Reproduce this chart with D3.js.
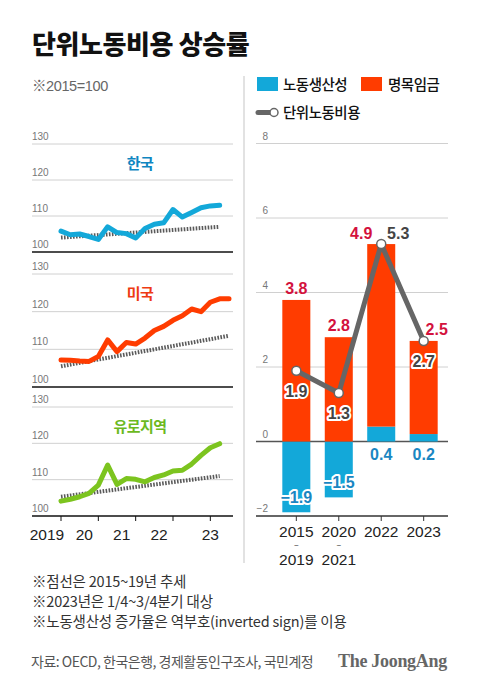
<!DOCTYPE html>
<html><head><meta charset="utf-8">
<script src="https://cdn.jsdelivr.net/npm/d3@7"></script>
<style>
body{margin:0;background:#fff;}
svg{display:block;font-family:"Liberation Sans","Noto Sans CJK KR",sans-serif;}
.kr{font-family:"Noto Sans CJK KR","Liberation Sans",sans-serif;}
</style></head><body>
<svg id="c" width="480" height="691"></svg>
<script>
// ---------- data ----------
const leftTicks = [100, 110, 120, 130];
const yearTicks = [0, 4, 8, 12, 16];          // quarter index of Q1 each year
const yearLabels = ["2019", "20", "21", "22", "23"];
const panelNames = ["한국", "미국", "유로지역"];
const korea = [105.8,104.8,105.0,104.3,103.5,107.0,105.4,105.1,103.9,106.5,107.7,108.1,111.8,109.7,111.0,112.3,112.8,113.0];
const usa   = [107.2,107.1,106.9,106.8,108.1,112.5,109.4,111.8,111.4,113.0,115.0,116.1,117.7,118.9,120.7,120.0,122.5,123.4,123.4];
const euro  = [104.1,104.6,105.3,106.2,108.5,114.0,108.7,110.3,110.1,109.4,110.6,111.3,112.4,112.6,114.3,116.7,118.8,119.9];
const koreaTrend = [[0,104.0],[17,107.0]];
const usaTrend   = [[0,105.5],[18,113.6]];
const euroTrend  = [[0,105.3],[17,111.0]];

const periods = ["2015~2019", "2020~2021", "2022", "2023"];
const productivity = [-1.9, -1.5, 0.4, 0.2];
const wages = [3.8, 2.8, 4.9, 2.5];
const unitLaborCost = [1.9, 1.3, 5.3, 2.7];
const rightTicks = [-2, 0, 2, 4, 6, 8];

const notes = ["※점선은 2015~19년 추세", "※2023년은 1/4~3/4분기 대상", "※노동생산성 증가율은 역부호(inverted sign)를 이용"];
const source = "자료: OECD, 한국은행, 경제활동인구조사, 국민계정";

// ---------- drawing ----------
const svg = d3.select("#c");
const cBlue = "#13a8d9", cRed = "#ff3c00", cGreen = "#7cc41f", cGray = "#666";

svg.append("text").attr("class","kr").attr("x",32).attr("y",54)
  .attr("font-size",26).attr("font-weight",900).attr("letter-spacing",-0.4).attr("fill","#111")
  .text("단위노동비용 상승률");
svg.append("text").attr("x",32).attr("y",91)
  .attr("font-family","Liberation Sans, Noto Sans CJK KR, sans-serif")
  .attr("font-size",14.5).attr("fill","#666").attr("letter-spacing",-0.4).text("※2015=100");

// divider
svg.append("line").attr("x1",244).attr("x2",244).attr("y1",76).attr("y2",563)
  .attr("stroke","#e2e2e2").attr("stroke-width",2);

// left panels
const x = d3.scaleLinear().domain([0,18]).range([61,229]);
const panels = [
  {name:panelNames[0], data:korea, trend:koreaTrend, color:cBlue, tcolor:"#0f86c1", top:144, bottom:252},
  {name:panelNames[1], data:usa, trend:usaTrend, color:cRed, tcolor:"#ee3b12", top:274, bottom:387},
  {name:panelNames[2], data:euro, trend:euroTrend, color:cGreen, tcolor:"#6cb91e", top:407, bottom:516}
];
panels.forEach((p,pi)=>{
  const y = d3.scaleLinear().domain([100,130]).range([p.bottom,p.top]);
  const g = svg.append("g");
  leftTicks.forEach(t=>{
    g.append("line").attr("x1",32).attr("x2",233).attr("y1",y(t)).attr("y2",y(t))
      .attr("stroke", t===100 ? "#111" : "#d0d0d0").attr("stroke-width", t===100 ? 1.5 : 1);
    g.append("text").attr("x",32).attr("y",y(t)-4).attr("font-size",10).attr("fill","#777").text(t);
  });
  g.append("text").attr("class","kr").attr("x",140).attr("y",y(130)+25)
    .attr("text-anchor","middle").attr("font-size",15).attr("font-weight",700)
    .attr("letter-spacing",-0.5).attr("fill",p.tcolor).text(p.name);
  g.append("path").datum(p.trend)
    .attr("d", d3.line().x(d=>x(d[0])).y(d=>y(d[1])))
    .attr("fill","none").attr("stroke","#5a5a5a").attr("stroke-width",4).attr("stroke-dasharray","1.6,1.4");
  g.append("path").datum(p.data)
    .attr("d", d3.line().x((d,i)=>x(i)).y(d=>y(d)))
    .attr("fill","none").attr("stroke",p.color).attr("stroke-width",5)
    .attr("stroke-linejoin","round").attr("stroke-linecap","round");
  if(pi===2){
    yearTicks.forEach((q,i)=>{
      g.append("line").attr("x1",x(q)).attr("x2",x(q)).attr("y1",p.bottom).attr("y2",p.bottom+5)
        .attr("stroke","#111").attr("stroke-width",1);
      g.append("text").attr("x",x(q)+(i<4?-14:0)).attr("y",540).attr("text-anchor","middle")
        .attr("font-size",15.5).attr("fill","#222").text(yearLabels[i]);
    });
  }
});

// right chart
const xb = d3.scaleBand().domain(periods).range([275.1,444.9]).paddingInner(0.34).paddingOuter(0.17);
const yr = d3.scaleLinear().domain([-2,8]).range([516,143.5]);
const rg = svg.append("g");
rightTicks.forEach(t=>{
  rg.append("line").attr("x1",256).attr("x2",448).attr("y1",yr(t)).attr("y2",yr(t))
    .attr("stroke", t===0 ? "#555" : (t===-2 ? "#333" : "#d0d0d0")).attr("stroke-width", t<=0 ? 1.5 : 1);
  rg.append("text").attr("x",268).attr("y",yr(t)-4).attr("text-anchor","end")
    .attr("font-size",10).attr("fill","#777").text(t<0 ? "\u2212"+Math.abs(t) : t);
});
periods.forEach((p,i)=>{
  const cx = xb(p)+xb.bandwidth()/2;
  rg.append("line").attr("x1",cx).attr("x2",cx).attr("y1",yr(-2)).attr("y2",yr(-2)+5).attr("stroke","#333");
  const parts = p.split("~");
  rg.append("text").attr("x",cx).attr("y",537).attr("text-anchor","middle").attr("font-size",15.5).attr("fill","#222").text(parts[0]);
  if(parts.length>1){
    rg.append("text").attr("x",cx).attr("y",548.3).attr("text-anchor","middle").attr("font-size",8).attr("fill","#222").text("~");
    rg.append("text").attr("x",cx).attr("y",564.5).attr("text-anchor","middle").attr("font-size",15.5).attr("fill","#222").text(parts[1]);
  }
});
// bars
periods.forEach((p,i)=>{
  const pv = productivity[i];
  const base = pv>0 ? pv : 0;
  rg.append("rect").attr("x",xb(p)).attr("width",xb.bandwidth())
    .attr("y",yr(Math.max(0,pv))).attr("height",Math.abs(yr(pv)-yr(0))).attr("fill",cBlue);
  rg.append("rect").attr("x",xb(p)).attr("width",xb.bandwidth())
    .attr("y",yr(base+wages[i])).attr("height",yr(base)-yr(base+wages[i])).attr("fill",cRed);
});
// line
const cxs = periods.map(p=>xb(p)+xb.bandwidth()/2);
rg.append("path").datum(unitLaborCost)
  .attr("d", d3.line().x((d,i)=>cxs[i]).y(d=>yr(d)))
  .attr("fill","none").attr("stroke",cGray).attr("stroke-width",5).attr("stroke-linejoin","round");
unitLaborCost.forEach((v,i)=>{
  rg.append("circle").attr("cx",cxs[i]).attr("cy",yr(v)).attr("r",4.5)
    .attr("fill","#fff").attr("stroke",cGray).attr("stroke-width",1.5);
});
const halo = s=>s.attr("stroke","#fff").attr("stroke-width",4).attr("paint-order","stroke").attr("stroke-linejoin","round");
// labels
const fmt = v => v<0 ? "\u2212"+Math.abs(v).toFixed(1) : v.toFixed(1);
periods.forEach((p,i)=>{
  const cx = cxs[i];
  const pv = productivity[i];
  const base = pv>0 ? pv : 0;
  const topY = yr(base+wages[i]);
  let wx = cx, wy = topY-6;
  if(i===2){ wx = cx-20; wy = topY-5; }
  if(i===3){ wx = cx+13; wy = topY-6; }
  rg.append("text").attr("x",wx).attr("y",wy).attr("text-anchor","middle")
    .attr("font-size",16).attr("font-weight",700).attr("fill","#d3123d").text(fmt(wages[i]));
  const py = pv<0 ? yr(pv)-9 : yr(0)+18;
  halo(rg.append("text").attr("x",cx).attr("y",py).attr("text-anchor","middle")
    .attr("font-size",16).attr("font-weight",700).attr("fill","#1a86c2")).attr("stroke-width", pv<0?4:0).text(fmt(pv));
  const v = unitLaborCost[i];
  if(i===2){
    rg.append("text").attr("x",cx+17).attr("y",yr(v)-5).attr("text-anchor","middle")
      .attr("font-size",16).attr("font-weight",700).attr("fill","#444").text(fmt(v));
  } else {
    halo(rg.append("text").attr("x",cx).attr("y",yr(v)+26).attr("text-anchor","middle")
      .attr("font-size",16).attr("font-weight",700).attr("fill","#444")).text(fmt(v));
  }
});

// legend
const lg = svg.append("g");
lg.append("rect").attr("x",257).attr("y",77).attr("width",21).attr("height",14).attr("fill",cBlue);
lg.append("text").attr("class","kr").attr("x",283).attr("y",90).attr("font-size",14.5).attr("font-weight",500).attr("letter-spacing",-0.5).attr("fill","#111").text("노동생산성");
lg.append("rect").attr("x",361).attr("y",77).attr("width",21).attr("height",14).attr("fill",cRed);
lg.append("text").attr("class","kr").attr("x",388).attr("y",90).attr("font-size",14.5).attr("font-weight",500).attr("letter-spacing",-0.5).attr("fill","#111").text("명목임금");
lg.append("line").attr("x1",258).attr("x2",271).attr("y1",112.5).attr("y2",112.5).attr("stroke",cGray).attr("stroke-width",5).attr("stroke-linecap","round");
lg.append("circle").attr("cx",274).attr("cy",112.5).attr("r",4).attr("fill","#fff").attr("stroke",cGray).attr("stroke-width",1.5);
lg.append("text").attr("class","kr").attr("x",283).attr("y",118).attr("font-size",14.5).attr("font-weight",500).attr("letter-spacing",-0.5).attr("fill","#111").text("단위노동비용");

// notes
notes.forEach((n,i)=>{
  svg.append("text").attr("class","kr").attr("x",32).attr("y",587+i*20).attr("font-size",14.5)
    .attr("letter-spacing",-0.2).attr("fill","#333").text(n);
});
svg.append("text").attr("class","kr").attr("x",31).attr("y",667).attr("font-size",14)
  .attr("letter-spacing",-0.5).attr("fill","#555").text(source);
svg.append("text").attr("x",338).attr("y",667).attr("font-family","Liberation Serif, serif")
  .attr("font-size",18).attr("font-weight",700).attr("letter-spacing",-0.3).attr("fill","#666").text("The JoongAng");
</script>
</body></html>
